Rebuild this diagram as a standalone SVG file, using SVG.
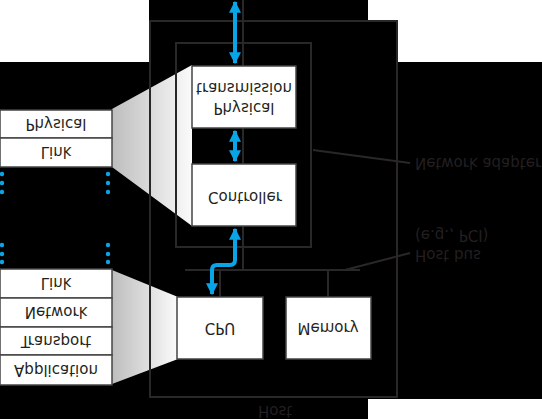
<svg xmlns="http://www.w3.org/2000/svg" width="542" height="419" viewBox="0 0 542 419">
<style>
.ln{stroke:#2a2727;stroke-width:2;fill:none}
.bx{fill:#fff;stroke:#444;stroke-width:1.5}
.t{font-family:"DejaVu Sans",sans-serif;font-size:15px;fill:#231f20;text-anchor:middle}
.tl{font-family:"DejaVu Sans",sans-serif;font-size:15px;fill:#231f20;text-anchor:start}
.bl{stroke:#0aa5e6;stroke-width:4;fill:none;stroke-linejoin:round}
.dot{fill:#0aa5e6}
</style>
<defs>
<linearGradient id="g" x1="0" y1="0" x2="1" y2="0">
<stop offset="0" stop-color="#bdbdbd"/>
<stop offset="1" stop-color="#fbfbfb"/>
</linearGradient>
<marker id="ah" viewBox="0 0 10 10" refX="9" refY="5" markerWidth="3" markerHeight="3" markerUnits="strokeWidth" orient="auto-start-reverse">
<path d="M0,0 L10,5 L0,10 z" fill="#0aa5e6"/>
</marker>
</defs>
<rect width="542" height="419" fill="#000"/>
<rect x="0" y="0" width="149" height="62" fill="#fff"/>
<rect x="368" y="0" width="174" height="62" fill="#fff"/>
<rect x="368" y="399" width="174" height="20" fill="#fff"/>

<g id="host">
<rect x="150" y="21" width="247" height="376" fill="#000" stroke="#2a2727" stroke-width="2"/>
<text class="t" transform="matrix(1 0 0 -1 275 411)" y="5.4">Host</text>
</g>

<g id="projections">
<polygon points="112,109 192,65 192,226 112,167" fill="url(#g)"/>
<polygon points="112,270 178,297 178,359 112,384" fill="url(#g)"/>
</g>

<g id="adapter">
<rect x="176" y="43" width="135" height="204" class="ln"/>
</g>

<g id="connectors">
<line x1="150" y1="21" x2="150" y2="397" class="ln"/>
<line x1="176" y1="43" x2="176" y2="247" class="ln"/>
<line x1="243" y1="0" x2="243" y2="270" class="ln"/>
<line x1="185" y1="270" x2="360" y2="270" class="ln"/>
<line x1="220" y1="270" x2="220" y2="297" class="ln"/>
<line x1="328" y1="270" x2="328" y2="297" class="ln"/>
<line x1="313" y1="150" x2="410" y2="163" class="ln"/>
<line x1="345" y1="270" x2="410" y2="253" class="ln"/>
<path class="bl" d="M235,2 L235,63" marker-start="url(#ah)" marker-end="url(#ah)"/>
<path class="bl" d="M235,131 L235,161" marker-start="url(#ah)" marker-end="url(#ah)"/>
<path class="bl" d="M235,229 L235,260 Q235,265 230,265 L217,265 Q212,265 212,270 L212,294" marker-start="url(#ah)" marker-end="url(#ah)"/>
</g>

<g id="phys">
<rect class="bx" x="192" y="66" width="104" height="62"/>
<text class="t" transform="matrix(1 0 0 -1 244 108)" y="5.4">Physical</text>
<text class="t" transform="matrix(1 0 0 -1 244 88)" y="5.4">transmission</text>
</g>
<g id="controller">
<rect class="bx" x="192" y="164" width="104" height="62"/>
<text class="t" transform="matrix(1 0 0 -1 245 197)" y="5.4">Controller</text>
</g>
<g id="cpu">
<rect class="bx" x="177" y="297" width="86" height="62"/>
<text class="t" transform="matrix(1 0 0 -1 220 328)" y="5.4">CPU</text>
</g>
<g id="memory">
<rect class="bx" x="286" y="297" width="85" height="62"/>
<text class="t" transform="matrix(1 0 0 -1 328 328)" y="5.4">Memory</text>
</g>

<g id="stack-upper">
<rect class="bx" x="0" y="110" width="112" height="28"/>
<rect class="bx" x="0" y="138" width="112" height="29"/>
<text class="t" transform="matrix(1 0 0 -1 56 124)" y="5.4">Physical</text>
<text class="t" transform="matrix(1 0 0 -1 56 152)" y="5.4">Link</text>
</g>
<g id="stack-lower">
<rect class="bx" x="0" y="269" width="112" height="29"/>
<rect class="bx" x="0" y="298" width="112" height="29"/>
<rect class="bx" x="0" y="327" width="112" height="28"/>
<rect class="bx" x="0" y="355" width="112" height="30"/>
<text class="t" transform="matrix(1 0 0 -1 56 283)" y="5.4">Link</text>
<text class="t" transform="matrix(1 0 0 -1 56 312)" y="5.4">Network</text>
<text class="t" transform="matrix(1 0 0 -1 56 341)" y="5.4">Transport</text>
<text class="t" transform="matrix(1 0 0 -1 56 370)" y="5.4">Application</text>
</g>

<g id="dots">
<circle class="dot" cx="2" cy="174" r="2.2"/><circle class="dot" cx="2" cy="183" r="2.2"/><circle class="dot" cx="2" cy="192" r="2.2"/>
<circle class="dot" cx="108" cy="174" r="2.2"/><circle class="dot" cx="108" cy="183" r="2.2"/><circle class="dot" cx="108" cy="192" r="2.2"/>
<circle class="dot" cx="2" cy="245" r="2.2"/><circle class="dot" cx="2" cy="254" r="2.2"/><circle class="dot" cx="2" cy="262" r="2.2"/>
<circle class="dot" cx="108" cy="245" r="2.2"/><circle class="dot" cx="108" cy="254" r="2.2"/><circle class="dot" cx="108" cy="262" r="2.2"/>
</g>

<g id="labels">
<text class="tl" transform="matrix(1 0 0 -1 415 163)" y="5.4">Network adapter</text>
<text class="tl" transform="matrix(1 0 0 -1 415 255)" y="5.4">Host bus</text>
<text class="tl" transform="matrix(1 0 0 -1 415 235)" y="5.4">(e.g., PCI)</text>
</g>
</svg>
